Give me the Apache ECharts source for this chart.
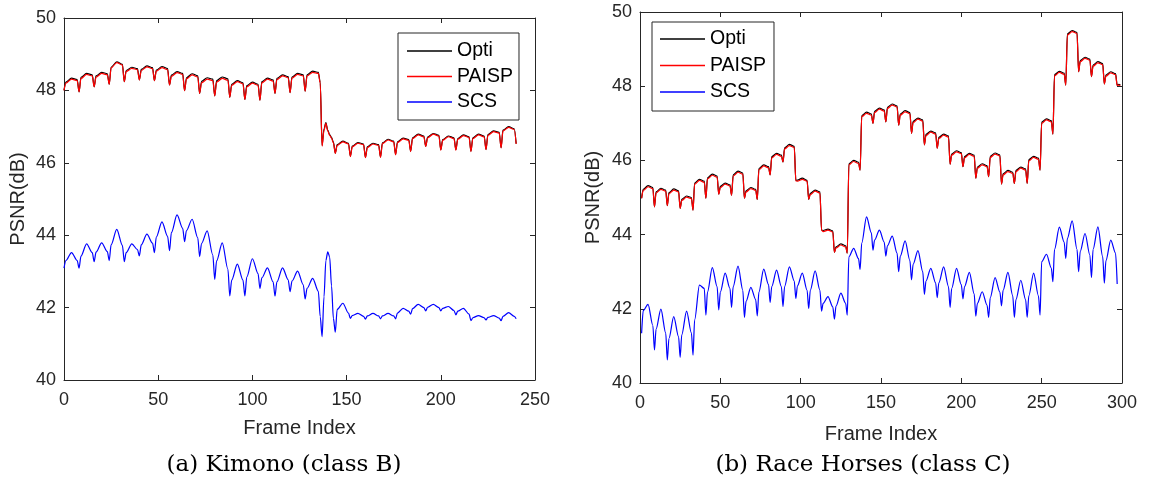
<!DOCTYPE html>
<html><head><meta charset="utf-8">
<script src="https://cdn.jsdelivr.net/npm/echarts@6/dist/echarts.min.js"></script>
<style>html,body{margin:0;padding:0;background:#fff}#c{width:1150px;height:481px}</style>
</head><body><div id="c"></div>
<script>
// ---------- Data ----------
const seriesNames = ['Opti', 'PAISP', 'SCS'];
const xTicksA = [0, 50, 100, 150, 200, 250];
const xTicksB = [0, 50, 100, 150, 200, 250, 300];
const yTicks = [40, 42, 44, 46, 48, 50];
const captionA = '(a) Kimono (class B)';
const captionB = '(b) Race Horses (class C)';

// (a) Kimono – frame indices of sampled points
const kimonoFrames = [0,1,4,7, 8,9,12,15, 16,17,20,23, 24,25,28,31, 32,33,36,39, 40,41,44,47, 48,49,52,55, 56,57,60,63,
  64,65,68,71, 72,73,76,79, 80,81,84,87, 88,89,92,95, 96,97,100,103, 104,105,108,111, 112,113,116,119, 120,121,124,127,
  128,129,132,135, 136,137,138,139,140,141,142,143, 144,145,148,151, 152,153,156,159, 160,161,164,167, 168,169,172,175,
  176,177,180,183, 184,185,188,191, 192,193,196,199, 200,201,204,207, 208,209,212,215, 216,217,220,223, 224,225,228,231,
  232,233,236,239, 240];
const kimonoOpti = [48.00,48.23,48.34,48.30, 47.96,48.36,48.47,48.43, 48.10,48.40,48.50,48.46, 48.17,48.64,48.79,48.72,
  48.24,48.55,48.64,48.60, 48.29,48.58,48.68,48.63, 48.27,48.56,48.66,48.60, 48.15,48.42,48.52,48.47,
  47.99,48.35,48.46,48.40, 47.92,48.25,48.35,48.31, 47.85,48.27,48.37,48.32, 47.81,48.17,48.27,48.21,
  47.75,48.13,48.23,48.17, 47.73,48.24,48.34,48.29, 47.92,48.33,48.43,48.38, 47.94,48.37,48.47,48.43,
  47.98,48.43,48.53,48.50, 48.22,46.48,46.93,47.11,46.90,46.78,46.70,46.57, 46.27,46.50,46.60,46.54,
  46.18,46.46,46.56,46.52, 46.15,46.44,46.54,46.50, 46.16,46.55,46.65,46.60, 46.23,46.58,46.68,46.64,
  46.32,46.69,46.79,46.74, 46.46,46.71,46.81,46.76, 46.36,46.64,46.74,46.69, 46.36,46.67,46.77,46.72,
  46.32,46.69,46.79,46.74, 46.37,46.78,46.88,46.84, 46.42,46.90,47.00,46.94, 46.53];
const kimonoPAISP = [48.00,48.20,48.31,48.27, 47.96,48.33,48.44,48.40, 48.10,48.37,48.47,48.43, 48.17,48.62,48.77,48.70,
  48.24,48.52,48.61,48.57, 48.29,48.55,48.65,48.60, 48.27,48.53,48.63,48.57, 48.15,48.39,48.49,48.44,
  47.99,48.32,48.43,48.37, 47.92,48.21,48.31,48.27, 47.85,48.23,48.33,48.28, 47.81,48.14,48.24,48.18,
  47.75,48.10,48.20,48.14, 47.73,48.21,48.31,48.26, 47.92,48.30,48.40,48.35, 47.94,48.34,48.44,48.40,
  47.98,48.40,48.50,48.47, 48.20,46.46,46.90,47.09,46.88,46.76,46.68,46.55, 46.26,46.48,46.58,46.52,
  46.17,46.44,46.54,46.50, 46.14,46.42,46.52,46.48, 46.15,46.53,46.63,46.58, 46.22,46.56,46.66,46.62,
  46.31,46.67,46.77,46.72, 46.45,46.69,46.79,46.74, 46.35,46.62,46.72,46.67, 46.35,46.65,46.75,46.70,
  46.31,46.67,46.77,46.72, 46.36,46.76,46.86,46.82, 46.41,46.88,46.98,46.92, 46.52];
const kimonoSCS = [43.09,43.30,43.52,43.30, 43.09,43.42,43.76,43.52, 43.27,43.53,43.79,43.55, 43.30,43.73,44.16,43.72,
  43.27,43.52,43.76,43.60, 43.43,43.73,44.03,43.78, 43.52,43.95,44.37,43.97, 43.57,44.07,44.56,44.19,
  43.82,44.13,44.44,43.93, 43.41,43.77,44.12,43.45, 42.78,43.29,43.79,43.06, 42.32,42.76,43.20,42.76,
  42.32,42.84,43.35,42.94, 42.53,42.82,43.10,42.71, 42.32,42.71,43.10,42.77, 42.44,42.73,43.01,42.63,
  42.24,42.53,42.81,42.45, 41.75,41.20,42.30,43.30,43.54,43.40,42.60,41.70, 41.32,41.95,42.12,41.85,
  41.70,41.78,41.84,41.76, 41.68,41.77,41.84,41.77, 41.69,41.77,41.84,41.77, 41.69,41.85,41.98,41.90,
  41.82,41.97,42.09,42.00, 41.91,42.01,42.09,42.00, 41.91,41.98,42.03,41.92, 41.80,41.90,41.98,41.82,
  41.64,41.72,41.78,41.72, 41.66,41.73,41.78,41.71, 41.64,41.76,41.86,41.76, 41.69];

// (b) Race Horses – frame indices of sampled points
const horsesFrames = [1,2,5,8, 9,10,13,16, 17,18,21,24, 25,26,29,32, 33,34,37,40, 41,42,45,48, 49,50,53,56, 57,58,61,64,
  65,66,69,72, 73,74,77,80, 81,82,85,88, 89,90,93,96, 97,98,101,104, 105,106,109,112, 113,114,117,120, 121,122,125,128,
  129,130,133,136, 137,138,141,144, 145,146,149,152, 153,154,157,160, 161,162,165,168, 169,170,173,176, 177,178,181,184,
  185,186,189,192, 193,194,197,200, 201,202,205,208, 209,210,213,216, 217,218,221,224, 225,226,229,232, 233,234,237,240,
  241,242,245,248, 249,250,253,256, 257,258,261,264, 265,266,269,272, 273,274,277,280, 281,282,285,288, 289,290,293,296,
  297,298,299];
const horsesOpti = [44.98,45.22,45.32,45.27, 44.75,45.15,45.25,45.20, 44.78,45.13,45.23,45.18, 44.71,44.95,45.04,45.00,
  44.66,45.39,45.49,45.44, 44.98,45.53,45.63,45.58, 45.09,45.30,45.39,45.34, 45.06,45.61,45.71,45.66,
  44.98,45.18,45.27,45.22, 44.95,45.78,45.88,45.83, 45.61,46.10,46.19,46.14, 45.96,46.34,46.43,46.38,
  45.46,45.47,45.52,45.46, 44.95,45.11,45.20,45.15, 44.12,44.11,44.15,44.10, 43.52,43.67,43.75,43.70,
  43.50,45.91,46.00,45.95, 45.74,47.21,47.30,47.25, 47.00,47.32,47.41,47.36, 47.04,47.43,47.52,47.47,
  46.95,47.25,47.34,47.29, 46.73,47.05,47.14,47.09, 46.42,46.70,46.79,46.74, 46.33,46.62,46.71,46.66,
  45.90,46.17,46.26,46.21, 45.83,46.10,46.19,46.14, 45.52,45.82,45.91,45.86, 45.56,46.11,46.20,46.15,
  45.36,45.64,45.73,45.68, 45.38,45.73,45.82,45.77, 45.38,46.02,46.11,46.06, 45.74,47.03,47.12,47.07,
  46.71,48.31,48.40,48.35, 48.03,49.41,49.50,49.45, 48.39,48.69,48.78,48.73, 48.26,48.57,48.66,48.61,
  48.06,48.30,48.39,48.34, 48.03,48.05,48.04];
const horsesPAISP = [44.98,45.19,45.29,45.24, 44.75,45.12,45.22,45.17, 44.78,45.10,45.20,45.15, 44.71,44.92,45.01,44.97,
  44.66,45.36,45.46,45.41, 44.98,45.50,45.60,45.55, 45.09,45.27,45.36,45.31, 45.06,45.58,45.68,45.63,
  44.98,45.15,45.24,45.19, 44.95,45.75,45.85,45.80, 45.61,46.07,46.16,46.11, 45.96,46.31,46.40,46.35,
  45.45,45.44,45.49,45.44, 44.95,45.08,45.17,45.12, 44.12,44.08,44.12,44.07, 43.52,43.64,43.72,43.67,
  43.50,45.88,45.97,45.92, 45.74,47.18,47.27,47.22, 47.00,47.29,47.38,47.33, 47.04,47.40,47.49,47.44,
  46.95,47.22,47.31,47.26, 46.73,47.02,47.11,47.06, 46.42,46.67,46.76,46.71, 46.33,46.59,46.68,46.63,
  45.90,46.14,46.23,46.18, 45.83,46.07,46.16,46.11, 45.52,45.79,45.88,45.83, 45.56,46.08,46.17,46.12,
  45.36,45.61,45.70,45.65, 45.38,45.70,45.79,45.74, 45.38,45.99,46.08,46.03, 45.74,47.00,47.09,47.04,
  46.71,48.28,48.37,48.32, 48.03,49.38,49.47,49.42, 48.39,48.66,48.75,48.70, 48.26,48.54,48.63,48.58,
  48.06,48.27,48.36,48.31, 48.02,48.03,48.02];
const horsesSCS = [41.34,41.95,42.12,41.55, 40.89,41.45,41.99,41.35, 40.62,41.20,41.79,41.25, 40.69,41.30,41.94,41.35,
  40.75,41.70,42.64,42.55, 41.83,42.45,43.11,42.60, 41.97,42.45,42.96,42.55, 42.04,42.60,43.15,42.50,
  41.77,42.20,42.58,42.25, 41.81,42.45,43.07,42.65, 42.17,42.60,43.04,42.60, 42.06,42.60,43.13,42.75,
  42.28,42.62,42.96,42.50, 42.01,42.50,43.02,42.50, 41.94,42.15,42.33,42.05, 41.72,42.07,42.42,42.15,
  41.83,43.40,43.63,43.35, 43.06,43.77,44.48,44.05, 43.58,43.85,44.12,43.80, 43.42,43.70,43.96,43.50,
  43.00,43.42,43.83,43.30, 42.78,43.20,43.57,43.00, 42.39,42.75,43.09,42.70, 42.30,42.70,43.13,42.60,
  42.04,42.55,43.09,42.65, 42.27,42.60,42.98,42.40, 41.80,42.15,42.46,42.10, 41.77,42.30,42.84,42.45,
  42.08,42.50,42.98,42.35, 41.77,42.25,42.77,42.25, 41.77,42.35,42.96,42.35, 41.83,43.27,43.47,43.10,
  42.73,43.60,44.20,43.80, 43.36,43.90,44.37,43.60, 43.00,43.55,44.03,43.45, 42.84,43.60,44.21,43.40,
  42.69,43.30,43.85,43.50, 42.67,null,null];

// ---------- Chart ----------
const AX = '#262626';
const FONT = '"Liberation Sans", Arial, Helvetica, sans-serif';
const colors = {Opti: '#000000', PAISP: '#ff0000', SCS: '#0000ff'};
const zip = (xs, ys) => xs.map((x, i) => [x, ys[i]]);

function xAxisPair(grid, ticks, nameGap) {
  const base = {gridIndex: grid, type: 'value', min: ticks[0], max: ticks[ticks.length - 1],
    interval: ticks[1] - ticks[0], splitLine: {show: false},
    axisLine: {show: true, onZero: false, lineStyle: {color: AX, width: 1}},
    axisTick: {show: true, inside: true, length: 5, lineStyle: {color: AX}}};
  return [
    Object.assign({}, base, {position: 'bottom', name: 'Frame Index', nameLocation: 'middle', nameGap: nameGap,
      nameTextStyle: {fontFamily: FONT, fontSize: 20, color: AX},
      axisLabel: {show: true, margin: 11, fontFamily: FONT, fontSize: 18, color: AX}}),
    Object.assign({}, base, {position: 'top', axisLabel: {show: false}})
  ];
}
function yAxisPair(grid, nameGap) {
  const base = {gridIndex: grid, type: 'value', min: yTicks[0], max: yTicks[yTicks.length - 1],
    interval: yTicks[1] - yTicks[0], splitLine: {show: false},
    axisLine: {show: true, onZero: false, lineStyle: {color: AX, width: 1}},
    axisTick: {show: true, inside: true, length: 5, lineStyle: {color: AX}}};
  return [
    Object.assign({}, base, {position: 'left', name: 'PSNR(dB)', nameLocation: 'middle', nameGap: nameGap,
      nameTextStyle: {fontFamily: FONT, fontSize: 20, color: AX},
      axisLabel: {show: true, margin: 8, fontFamily: FONT, fontSize: 18, color: AX}}),
    Object.assign({}, base, {position: 'right', axisLabel: {show: false}})
  ];
}
function lineSeries(name, xIdx, yIdx, data) {
  return {name: name, type: 'line', xAxisIndex: xIdx, yAxisIndex: yIdx, data: data,
    symbol: 'none', smooth: 0.3, smoothMonotone: 'x', connectNulls: false,
    lineStyle: {color: colors[name], width: 1.2}, itemStyle: {color: colors[name]}};
}
function legendAt(left, top, gap, pad) {
  return {orient: 'vertical', left: left, top: top, icon: 'rect', itemWidth: 45, itemHeight: 1.5, itemGap: gap,
    padding: pad, borderColor: AX, borderWidth: 1, backgroundColor: '#ffffff', selectedMode: false,
    textStyle: {fontFamily: FONT, fontSize: 19.5, lineHeight: 17, color: '#000'}, data: seriesNames};
}

const chart = echarts.init(document.getElementById('c'), null, {renderer: 'canvas'});
chart.setOption({
  animation: false,
  backgroundColor: '#ffffff',
  grid: [
    {left: 64, top: 18, width: 471, height: 362},
    {left: 640, top: 12, width: 482, height: 371}
  ],
  xAxis: xAxisPair(0, xTicksA, 38).concat(xAxisPair(1, xTicksB, 41)),
  yAxis: yAxisPair(0, 36).concat(yAxisPair(1, 37)),
  legend: [legendAt(398, 33, 5.5, [8, 6, 8, 9]), legendAt(652, 22, 6.5, [7, 8, 9, 8])],
  series: [
    lineSeries('Opti', 0, 0, zip(kimonoFrames, kimonoOpti)),
    lineSeries('PAISP', 0, 0, zip(kimonoFrames, kimonoPAISP)),
    lineSeries('SCS', 0, 0, zip(kimonoFrames, kimonoSCS)),
    lineSeries('Opti', 2, 2, zip(horsesFrames, horsesOpti)),
    lineSeries('PAISP', 2, 2, zip(horsesFrames, horsesPAISP)),
    lineSeries('SCS', 2, 2, zip(horsesFrames, horsesSCS))
  ],
  graphic: [
    {type: 'text', x: 284, y: 465, style: {text: captionA, font: '23px "DejaVu Serif", serif',
      textAlign: 'center', textVerticalAlign: 'middle', fill: '#000'}},
    {type: 'text', x: 863, y: 465, style: {text: captionB, font: '23px "DejaVu Serif", serif',
      textAlign: 'center', textVerticalAlign: 'middle', fill: '#000'}}
  ]
});
</script>
</body></html>
